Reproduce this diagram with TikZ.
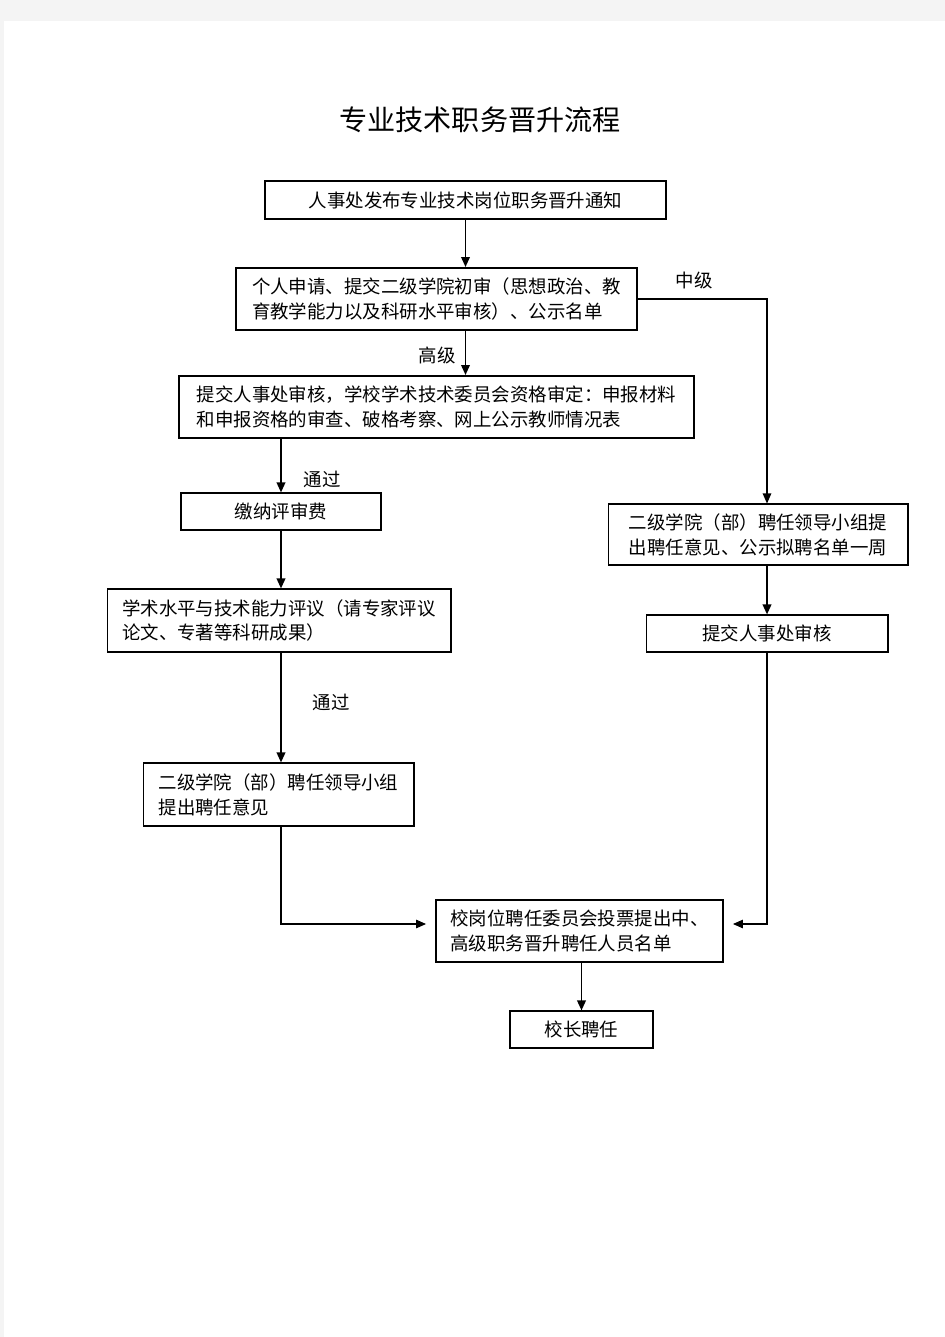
\documentclass[tikz,border=0pt]{standalone}
\usepackage{fontspec}
\setmainfont{Noto Sans CJK SC}
\usetikzlibrary{arrows.meta,positioning}
\definecolor{pagegray}{RGB}{244,244,244}

\begin{document}
\begin{tikzpicture}[x=0.02cm,y=-0.02cm,
  box/.style={draw,rectangle,inner sep=0pt,align=left,font=\fontsize{10.5}{14.2}\selectfont},
  thickbox/.style={box,line width=1.1pt},
  thinbox/.style={box,line width=0.6pt},
  arr/.style={-{Triangle[length=2mm,width=1.7mm]},line width=1.1pt},
  thinarr/.style={-{Triangle[length=2mm,width=1.7mm]},line width=0.6pt,shorten >=0.18cm},
  lbl/.style={font=\fontsize{10.5}{14.2}\selectfont}]
\fill[pagegray] (0,0) rectangle (945,1337);
\fill[white] (4,21) rectangle (945,1337);

\node (title) at (480,120) [font=\fontsize{16}{18}\selectfont] {专业技术职务晋升流程};

\node (n1) at (465.5,200) [thickbox,minimum width=8.02cm,minimum height=0.76cm] {人事处发布专业技术岗位职务晋升通知};
\node (n2) at (436.5,299) [thickbox,minimum width=8.02cm,minimum height=1.24cm] {个人申请、提交二级学院初审（思想政治、教\\育教学能力以及科研水平审核）、公示名单};
\node (n3) at (436.5,407) [thickbox,minimum width=10.3cm,minimum height=1.24cm] {提交人事处审核，学校学术技术委员会资格审定：申报材料\\和申报资格的审查、破格考察、网上公示教师情况表};
\node (n4) at (281,511.5) [thinbox,minimum width=4.0cm,minimum height=0.74cm] {缴纳评审费};
\node (n5) at (279,620.5) [thinbox,minimum width=6.88cm,minimum height=1.26cm] {学术水平与技术能力评议（请专家评议\\论文、专著等科研成果）};
\node (n6) at (278.5,794.5) [thinbox,minimum width=5.42cm,minimum height=1.26cm] {二级学院（部）聘任领导小组\\提出聘任意见};
\node (n7) at (758,534.5) [thinbox,minimum width=6.0cm,minimum height=1.22cm] {二级学院（部）聘任领导小组提\\出聘任意见、公示拟聘名单一周};
\node (n8) at (767,633.5) [thinbox,minimum width=4.84cm,minimum height=0.74cm] {提交人事处审核};
\node (n9) at (579.5,931) [thickbox,minimum width=5.74cm,minimum height=1.24cm] {校岗位聘任委员会投票提出中、\\高级职务晋升聘任人员名单};
\node (n10) at (581.5,1029.5) [thinbox,minimum width=2.86cm,minimum height=0.74cm] {校长聘任};

\node (lmid) at (694,281) [lbl] {中级};
\node (lhigh) at (437,355) [lbl] {高级};
\node (lpass1) at (322,479) [lbl] {通过};
\node (lpass2) at (331,702) [lbl] {通过};

\draw[arr] (n1.south) -- (n1.south |- n2.north);
\draw[arr] (n1.south |- n2.south) -- (n1.south |- n3.north);
\draw[arr,line width=0.6pt] (n2.east) -| (n7.north -| n8.north);
\draw[arr] (n3.south -| n4.north) -- (n4.north);
\draw[arr] (n4.south) -- (n4.south |- n5.north);
\draw[arr] (n4.south |- n5.south) -- (n4.south |- n6.north);
\draw[arr] (n7.south -| n8.north) -- (n8.north);
\draw[thinarr] (n4.south |- n6.south) |- ([yshift=0.14cm]n9.west);
\draw[thinarr] (n8.south) |- ([yshift=0.14cm]n9.east);
\draw[arr] (n9.south -| n10.north) -- (n10.north);
\end{tikzpicture}
\end{document}
